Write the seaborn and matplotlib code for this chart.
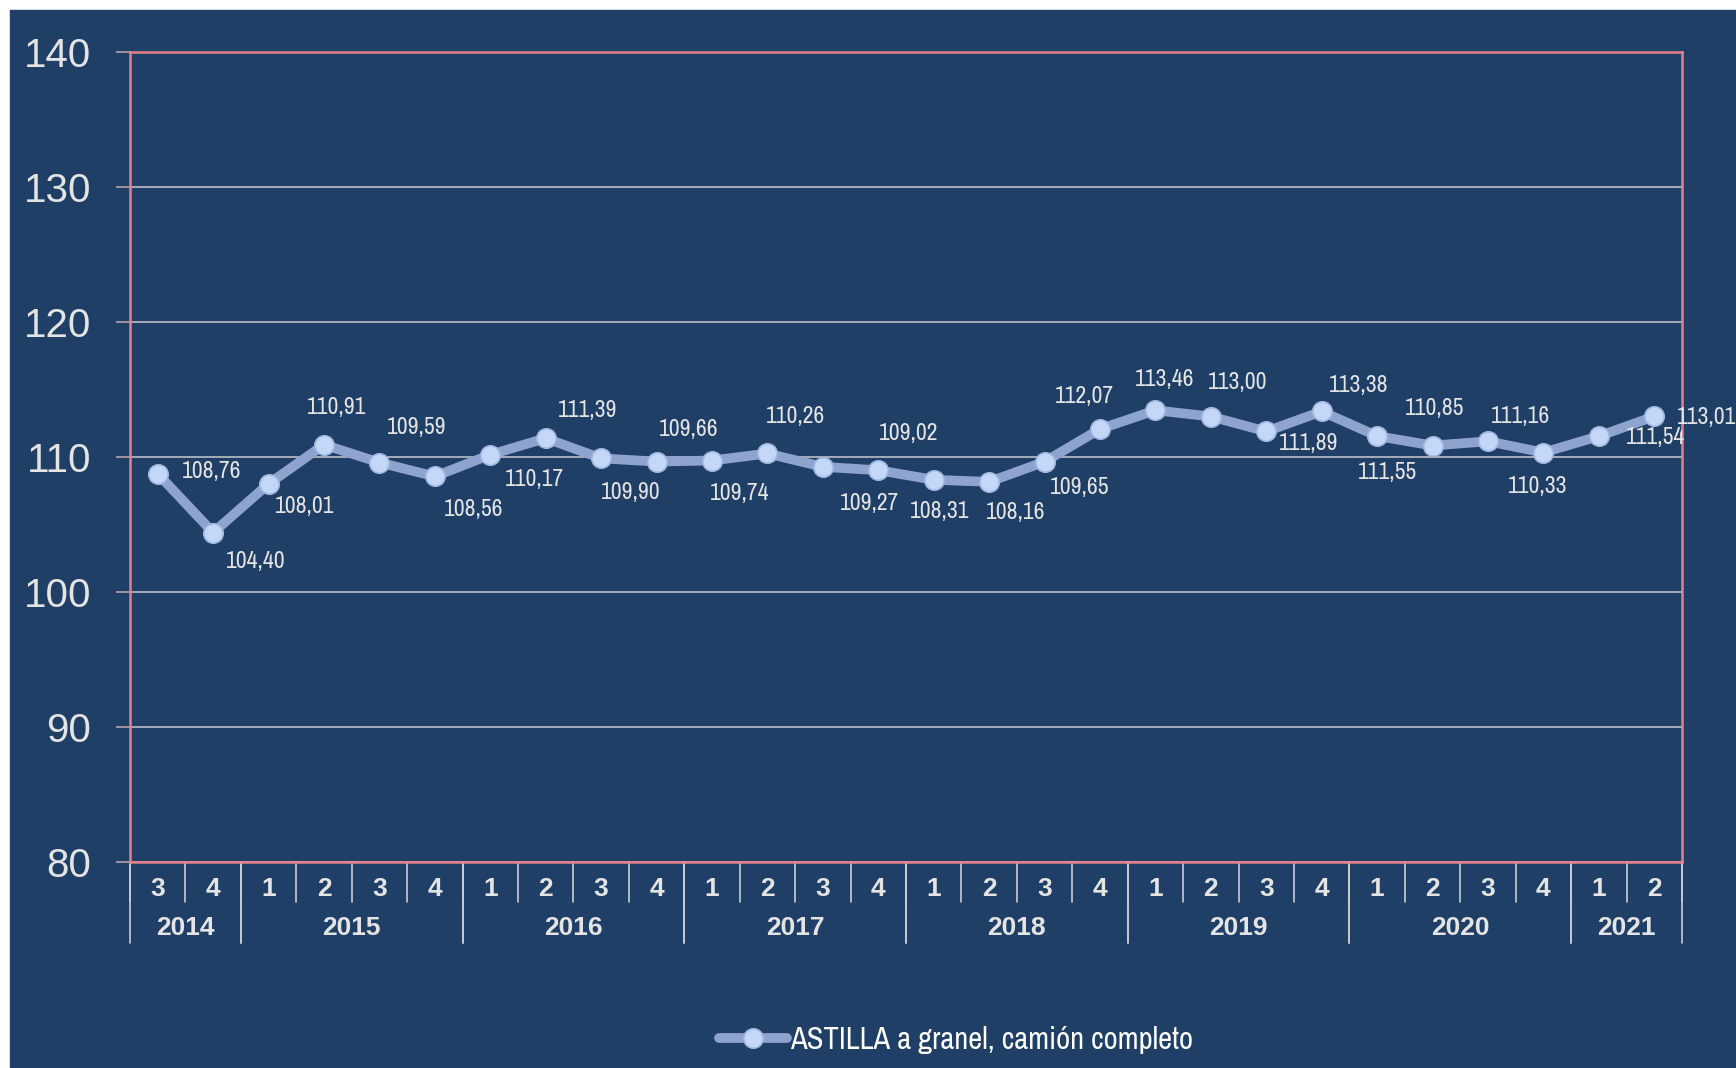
import numpy as np
import pandas as pd
import matplotlib
matplotlib.use("Agg")
import matplotlib.pyplot as plt
from matplotlib import font_manager as fm
from matplotlib.patches import Rectangle
import seaborn as sns

# quarterly index, 2014 Q3 .. 2021 Q2
years = ["2014"] * 2 + ["2015"] * 4 + ["2016"] * 4 + ["2017"] * 4 + \
        ["2018"] * 4 + ["2019"] * 4 + ["2020"] * 4 + ["2021"] * 2
quarters = ["3", "4"] + ["1", "2", "3", "4"] * 6 + ["1", "2"]
values = [108.76, 104.40, 108.01, 110.91, 109.59, 108.56, 110.17, 111.39,
          109.90, 109.66, 109.74, 110.26, 109.27, 109.02, 108.31, 108.16,
          109.65, 112.07, 113.46, 113.00, 111.89, 113.38, 111.55, 110.85,
          111.16, 110.33, 111.54, 113.01]
series_name = "ASTILLA a granel, camión completo"
y_ticks = [80, 90, 100, 110, 120, 130, 140]

# where each value label sits relative to its point (pixels, right / up)
label_offsets = [(49, 2), (38, -26), (33, -20), (11, 34), (34, 32), (35, -30),
                 (40, -22), (38, 25), (27, -31), (29, 29), (25, -30), (25, 33),
                 (42, -33), (27, 33), (5, -29), (24, -28), (32, -23), (-14, 29),
                 (8, 28), (24, 31), (38, -11), (33, 23), (9, -33), (2, 33),
                 (29, 22), (-5, -31), (51, -1), (47, -1)]

BG = "#1f3f67"
TXT = "#e4e4e4"

# a condensed face for the labels, if one is around
narrow = [f.name for f in fm.fontManager.ttflist
          if f.stretch in ("condensed", "semi-condensed", "extra-condensed")
          or "Narrow" in f.name or "Condensed" in f.name]
NARROW = (sorted(set(narrow))[:1] or []) + ["DejaVu Sans"]

df = pd.DataFrame({"pos": np.arange(len(values)), "value": values,
                   "year": years, "quarter": quarters})

sns.set_theme(style="dark")
plt.rcParams["font.family"] = ["Liberation Sans", "DejaVu Sans"]

fig = plt.figure(figsize=(17.36, 10.68), dpi=100, facecolor="white")
fig.patches.append(Rectangle((10 / 1736, 0), 1, 1058 / 1068,
                             transform=fig.transFigure, color=BG, zorder=-10))
ax = fig.add_axes([130 / 1736, 206 / 1068, 1552 / 1736, 810 / 1068])
ax.set_facecolor(BG)

sns.lineplot(data=df, x="pos", y="value", ax=ax, color="#8ea4cf", lw=7,
             marker="o", markersize=14, markerfacecolor="#c4d7f6",
             markeredgecolor="#9fb6e0", markeredgewidth=1.2,
             label=series_name, zorder=3)

for i, (v, (dx, dy)) in enumerate(zip(values, label_offsets)):
    txt = f"{v:.2f}".replace(".", ",")
    ax.annotate(txt, (i, v), xytext=(dx * 1.107, dy * 1.107),
                textcoords="offset pixels", ha="center", va="center",
                fontsize=17, color=TXT, family=NARROW, fontstretch="condensed",
                zorder=4, annotation_clip=False)

ax.set_xlim(-0.5, len(values) - 0.5)
ax.set_ylim(80, 140)
ax.set_yticks(y_ticks)
ax.set_yticklabels([str(t) for t in y_ticks], fontsize=29, color=TXT)
ax.grid(axis="y", color="#c9c9cf", lw=1.1)
ax.grid(axis="x", visible=False)
ax.tick_params(axis="y", length=10, width=1.2, color="#b8a0aa", pad=18, left=True)
ax.set_xticks(df["pos"])
ax.set_xticklabels(quarters, fontsize=19, fontweight="bold", color=TXT)
ax.tick_params(axis="x", length=0, pad=11)
ax.set_xlabel("")
ax.set_ylabel("")
for s in ax.spines.values():
    s.set_color("#e57f89")
    s.set_linewidth(1.8)

# category separators below the axis
xt = ax.get_xaxis_transform()
q_depth = -40 / 810
y_depth = -81 / 810
for b in np.arange(len(values) + 1) - 0.5:
    ax.plot([b, b], [0, q_depth], transform=xt, color="#c8ccd4", lw=1.2,
            clip_on=False)
start = 0
for yr in pd.unique(df["year"]):
    n = (df["year"] == yr).sum()
    for b in (start - 0.5, start + n - 0.5):
        ax.plot([b, b], [0, y_depth], transform=xt, color="#c8ccd4", lw=1.2,
                clip_on=False)
    ax.text(start + (n - 1) / 2, -66 / 810, yr, transform=xt, ha="center",
            va="center", fontsize=19, fontweight="bold", color=TXT)
    start += n

leg = ax.legend(loc="center", bbox_to_anchor=(956 / 1736, 28 / 1068),
                bbox_transform=fig.transFigure, frameon=False,
                handlelength=2.2, handletextpad=0.1,
                prop={"family": NARROW, "size": 22, "stretch": "condensed"})
for t in leg.get_texts():
    t.set_color("white")

fig.savefig("out.png", dpi=100, facecolor=fig.get_facecolor())
